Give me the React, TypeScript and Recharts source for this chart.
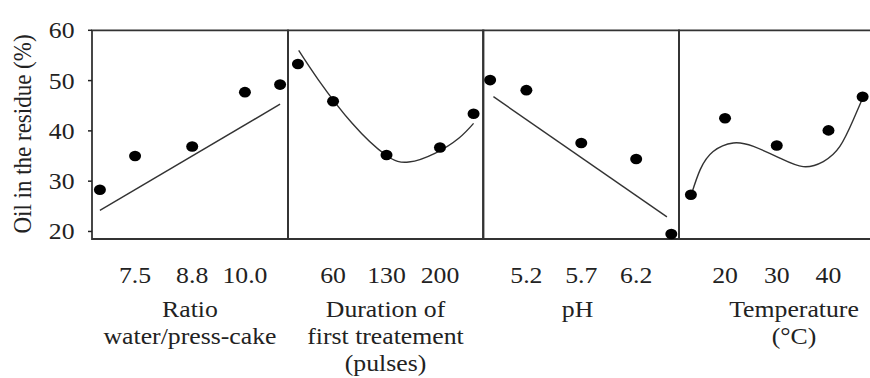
import { ComposedChart, Scatter, Line, XAxis, YAxis, ReferenceArea } from "recharts"

const FONT = "'Liberation Serif', 'Times New Roman', serif"
const INK = "#222"

// shared y axis (oil in the residue, %)
const oilTicks = [20, 30, 40, 50, 60]
const oilDomain: [number, number] = [18.5, 60]

// ratio water/press-cake
const ratioLevels = [6.7, 7.5, 8.8, 10.0, 10.8]
const ratioOil = [28.3, 35.0, 36.9, 47.7, 49.2]
const ratioFitX = [6.7, 10.8]
const ratioFitOil = [24.2, 45.3]
const ratioTicks = [7.5, 8.8, 10.0]

// duration of first treatment (pulses)
const pulseLevels = [14, 60, 130, 200, 244]
const pulseOil = [53.3, 45.9, 35.2, 36.7, 43.4]
const pulseFitX = [15, 41, 85, 129, 159, 194, 225, 244]
const pulseFitOil = [56.0, 50.1, 41.5, 35.2, 33.8, 35.6, 38.6, 41.5]
const pulseTicks = [60, 130, 200]

// pH
const phLevels = [4.87, 5.2, 5.7, 6.2, 6.52]
const phOil = [50.1, 48.1, 37.6, 34.4, 19.5]
const phFitX = [4.9, 6.48]
const phFitOil = [46.8, 22.9]
const phTicks = [5.2, 5.7, 6.2]

// temperature (°C)
const tempLevels = [13.4, 20, 30, 40, 46.6]
const tempOil = [27.3, 42.5, 37.1, 40.1, 46.8]
const tempFitX = [13.6, 15.2, 17.7, 21.6, 25.5, 30.6, 35.1, 39.0, 42.2, 44.8, 46.6]
const tempFitOil = [27.7, 32.3, 35.9, 37.6, 36.9, 34.6, 32.9, 33.9, 36.9, 42.2, 46.5]
const tempTicks = [20, 30, 40]

const zip = (xs: number[], ys: number[]) => xs.map((x, i) => ({ x, oil: ys[i] }))

const panels = [
  {
    key: "ratio", left: 92, right: 288, domain: [6.52, 10.98], ticks: ratioTicks,
    fmt: (v: number) => v.toFixed(1), points: zip(ratioLevels, ratioOil),
    fit: zip(ratioFitX, ratioFitOil), curve: "linear", label: ["Ratio", "water/press-cake"], labelX: 190,
  },
  {
    key: "pulses", left: 287.5, right: 483, domain: [1, 257], ticks: pulseTicks,
    fmt: (v: number) => String(v), points: zip(pulseLevels, pulseOil),
    fit: zip(pulseFitX, pulseFitOil), curve: "natural", label: ["Duration of", "first treatement", "(pulses)"], labelX: 385,
  },
  {
    key: "ph", left: 483, right: 679, domain: [4.805, 6.59], ticks: phTicks,
    fmt: (v: number) => v.toFixed(1), points: zip(phLevels, phOil),
    fit: zip(phFitX, phFitOil), curve: "linear", label: ["pH"], labelX: 577.5,
  },
  {
    key: "temp", left: 679, right: 874, domain: [11.1, 48.8], ticks: tempTicks,
    fmt: (v: number) => String(v), points: zip(tempLevels, tempOil),
    fit: zip(tempFitX, tempFitOil), curve: "natural", label: ["Temperature", "(°C)"], labelX: 794,
  },
]

function SText({ x, y, anchor = "middle", children }: any) {
  return (
    <text
      transform={`translate(${x},${y}) scale(1.12,1)`}
      textAnchor={anchor}
      fontFamily={FONT}
      fontSize={23}
      fill={INK}
    >
      {children}
    </text>
  )
}

const dot = (p: any) => <ellipse cx={p.cx} cy={p.cy} rx={6} ry={5.3} fill="#000" />

const H = 378
const TOP = 30.3
const BOTTOM = 239

export default function App() {
  return (
    <div style={{ position: "absolute", left: 0, top: 0, width: 870, height: H, overflow: "hidden", background: "#fff" }}>
      {panels.map((p, idx) => {
        const first = idx === 0
        const chartLeft = first ? 0 : p.left - 5
        const width = p.right + 5 - chartLeft
        return (
          <div key={p.key} style={{ position: "absolute", left: chartLeft, top: 0 }}>
            <ComposedChart
              width={width}
              height={H}
              margin={{ top: TOP, right: 5, bottom: H - BOTTOM - 30, left: first ? 32 : 5 }}
            >
              <XAxis
                type="number"
                dataKey="x"
                domain={p.domain}
                allowDataOverflow
                ticks={p.ticks}
                interval={0}
                height={30}
                axisLine={false}
                tickLine={false}
                tick={(t: any) => <SText x={t.x} y={283}>{p.fmt(t.payload.value)}</SText>}
                label={{
                  content: () => (
                    <g>
                      {p.label.map((line, i) => (
                        <SText key={i} x={p.labelX - chartLeft} y={317 + i * 27}>{line}</SText>
                      ))}
                    </g>
                  ),
                }}
              />
              {first ? (
                <YAxis
                  type="number"
                  domain={oilDomain}
                  ticks={oilTicks}
                  width={60}
                  axisLine={false}
                  tickSize={4}
                  tickLine={{ stroke: INK, strokeWidth: 1.5 }}
                  tick={(t: any) => <SText x={74.5} y={t.y + 8} anchor="end">{t.payload.value}</SText>}
                  label={{
                    content: () => (
                      <text
                        transform={`translate(31,134) scale(1.12,1) rotate(-90)`}
                        textAnchor="middle"
                        fontFamily={FONT}
                        fontSize={23}
                        fill={INK}
                      >
                        Oil in the residue (%)
                      </text>
                    ),
                  }}
                />
              ) : (
                <YAxis
                  type="number"
                  domain={oilDomain}
                  ticks={oilTicks}
                  width={0}
                  mirror
                  axisLine={false}
                  tickSize={3}
                  tickLine={{ stroke: "#555", strokeWidth: 1 }}
                  tick={() => <g />}
                />
              )}
              <Line
                data={p.fit}
                dataKey="oil"
                type={p.curve as any}
                dot={false}
                activeDot={false}
                stroke="#333"
                strokeWidth={1.4}
                isAnimationActive={false}
              />
              <Scatter data={p.points} dataKey="oil" shape={dot} isAnimationActive={false} />
              <ReferenceArea
                x1={p.domain[0]}
                x2={p.domain[1]}
                y1={oilDomain[0]}
                y2={oilDomain[1]}
                fill="none"
                fillOpacity={0}
                stroke="#333"
                strokeWidth={1.8}
                ifOverflow="visible"
              />
            </ComposedChart>
          </div>
        )
      })}
    </div>
  )
}
